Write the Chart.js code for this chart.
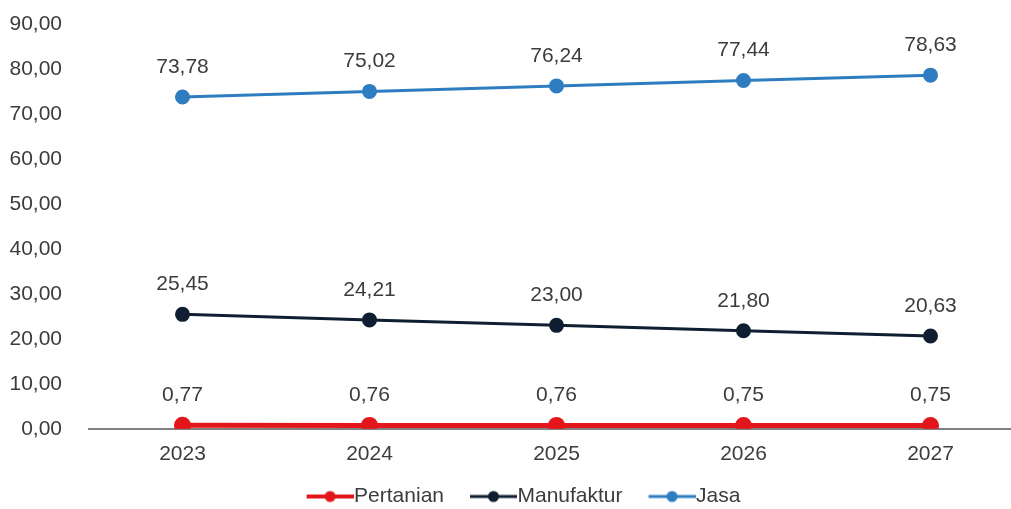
<!DOCTYPE html>
<html>
<head>
<meta charset="utf-8">
<script src="https://cdn.jsdelivr.net/npm/chart.js@4/dist/chart.umd.min.js"></script>
<style>
  html, body { margin: 0; padding: 0; background: #fff; overflow: hidden; }
  #wrap { width: 1035px; height: 509px; }
</style>
</head>
<body>
<div id="wrap"><canvas id="grafik"></canvas></div>
<script>
const tahun = ["2023", "2024", "2025", "2026", "2027"];
const pertanian = [0.77, 0.76, 0.76, 0.75, 0.75];
const manufaktur = [25.45, 24.21, 23.0, 21.8, 20.63];
const jasa = [73.78, 75.02, 76.24, 77.44, 78.63];

const warna = { pertanian: "#e3171b", manufaktur: "#0f1e30", jasa: "#2f7dc1" };
const fontUtama = "'Liberation Sans', Arial, sans-serif";
const warnaTeks = "#3c3c3c";

function formatAngka(v) {
  return Number(v).toFixed(2).replace(".", ",");
}

// ikon legenda: garis + titik, menempel ke teks di kanannya
function ikonLegenda(c, tebal) {
  let cv = document.createElement("canvas");
  cv.width = 69;
  cv.height = 14;
  let g = cv.getContext("2d");
  g.strokeStyle = c;
  g.lineWidth = tebal;
  g.beginPath();
  g.moveTo(22, 7);
  g.lineTo(69, 7);
  g.stroke();
  g.fillStyle = c;
  g.beginPath();
  g.arc(45.5, 7, 5.5, 0, Math.PI * 2);
  g.fill();
  return cv;
}

// label nilai di atas tiap titik
const labelNilai = {
  id: "labelNilai",
  afterDatasetsDraw(chart) {
    let ctx = chart.ctx;
    ctx.save();
    ctx.font = "21px " + fontUtama;
    ctx.fillStyle = warnaTeks;
    ctx.textAlign = "center";
    ctx.textBaseline = "middle";
    chart.data.datasets.forEach((ds, i) => {
      chart.getDatasetMeta(i).data.forEach((pt, j) => {
        ctx.fillText(formatAngka(ds.data[j]), pt.x, pt.y - 30);
      });
    });
    ctx.restore();
  },
};

new Chart(document.getElementById("grafik"), {
  type: "line",
  data: {
    labels: tahun,
    datasets: [
      {
        label: "Pertanian",
        data: pertanian,
        borderColor: warna.pertanian,
        backgroundColor: warna.pertanian,
        borderWidth: 5,
        pointRadius: 6,
      },
      {
        label: "Manufaktur",
        data: manufaktur,
        borderColor: warna.manufaktur,
        backgroundColor: warna.manufaktur,
        borderWidth: 3,
        pointRadius: 6,
      },
      {
        label: "Jasa",
        data: jasa,
        borderColor: warna.jasa,
        backgroundColor: warna.jasa,
        borderWidth: 3,
        pointRadius: 6,
      },
    ],
  },
  options: {
    responsive: true,
    maintainAspectRatio: false,
    animation: false,
    layout: { padding: { top: 24, left: 0, right: 0, bottom: -8 } },
    plugins: {
      tooltip: { enabled: false },
      legend: {
        position: "bottom",
        labels: {
          font: { size: 21, family: fontUtama },
          color: warnaTeks,
          usePointStyle: true,
          pointStyleWidth: 49,
          padding: 14,
          generateLabels: (chart) =>
            chart.data.datasets.map((ds, i) => ({
              text: ds.label,
              pointStyle: ikonLegenda(ds.borderColor, i === 0 ? 4 : 3),
              fillStyle: ds.borderColor,
              strokeStyle: ds.borderColor,
              lineWidth: 0,
              datasetIndex: i,
              fontColor: warnaTeks,
            })),
        },
      },
    },
    scales: {
      x: {
        offset: true,
        grid: { display: false },
        border: { display: true, color: "#808080", width: 2 },
        afterFit: (s) => { s.paddingLeft = 0; s.paddingRight = 0; },
        ticks: { font: { size: 21, family: fontUtama }, color: warnaTeks, padding: 5 },
      },
      y: {
        min: 0,
        max: 90,
        grid: { display: false },
        border: { display: false },
        afterFit: (s) => { s.width = 89; s.paddingTop = 0; s.paddingBottom = 0; },
        ticks: {
          stepSize: 10,
          padding: 19,
          font: { size: 21, family: fontUtama },
          color: warnaTeks,
          callback: (v) => formatAngka(v),
        },
      },
    },
  },
  plugins: [labelNilai],
});
</script>
</body>
</html>
